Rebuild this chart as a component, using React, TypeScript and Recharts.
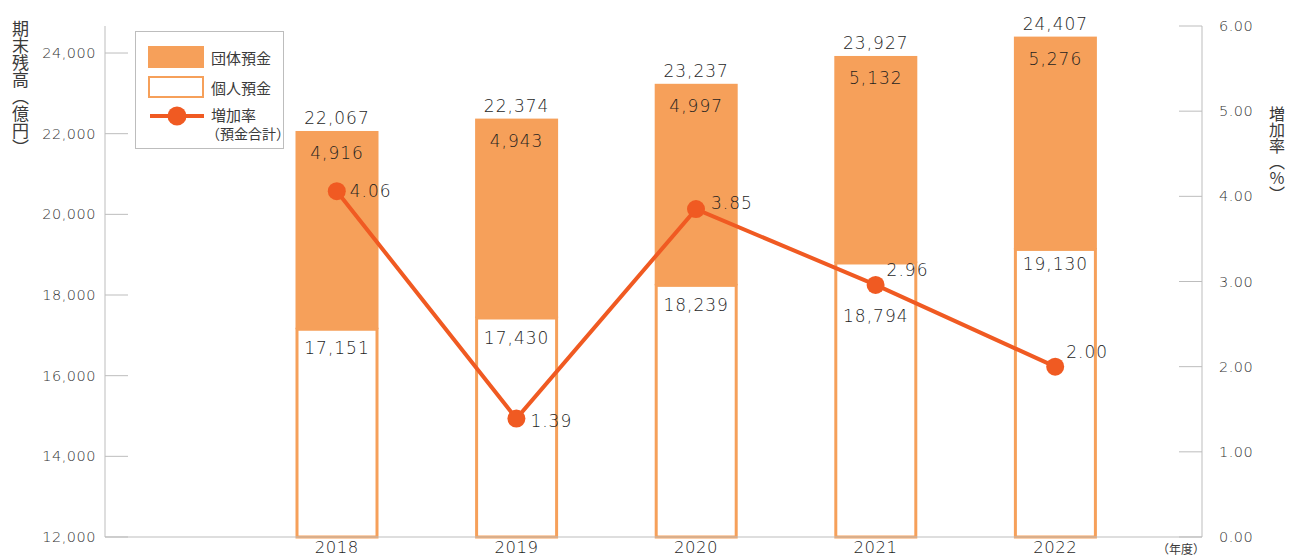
import { Bar, ComposedChart, Line, XAxis, YAxis } from 'recharts';

const years = ['2018', '2019', '2020', '2021', '2022'];
const groupDeposits = [4916, 4943, 4997, 5132, 5276];
const personalDeposits = [17151, 17430, 18239, 18794, 19130];
const totalDeposits = [22067, 22374, 23237, 23927, 24407];
const growthRates = [4.06, 1.39, 3.85, 2.96, 2.0];

const leftTicks = [12000, 14000, 16000, 18000, 20000, 22000, 24000];
const rightTicks = [0, 1, 2, 3, 4, 5, 6];

const BASE = 12000;
const BAR_ORANGE = '#F6A05A';
const LINE_ORANGE = '#F05A22';
const AXIS_GREY = '#BDBDBD';
const TEXT = '#3a3a3a';
const NUM_TEXT = '#1e1e1e';
const NUM_FONT = '"DejaVu Sans", sans-serif';
const NUM_WEIGHT = 200;
const JP_FONT = '"Noto Sans CJK JP", sans-serif';

// label nudges (dy of personal label, rate label dx/dy) per year
const personalLabelDy = [19, 20, 20, 53, 15];
const rateLabelDx = [13, 14, 15, 11, 11];
const rateLabelDy = [0, 2, -6, -15, -15];

const data = years.map((year, i) => ({
  year,
  personal: [BASE, personalDeposits[i]],
  group: [personalDeposits[i], totalDeposits[i]],
  rate: growthRates[i],
}));

const fmt = (n: number) => n.toLocaleString('en-US');

function PersonalShape(props: any) {
  const { x, y, width, height, payload } = props;
  const i = years.indexOf(payload.year);
  return (
    <g>
      <rect x={x} y={y} width={width} height={height} fill="#fff" stroke={BAR_ORANGE} strokeWidth={3} />
      <text
        x={x + width / 2}
        y={y + personalLabelDy[i]}
        textAnchor="middle"
        dominantBaseline="central"
        fontSize={17}
        letterSpacing={1}
        fontFamily={NUM_FONT}
        fontWeight={NUM_WEIGHT}
        fill={NUM_TEXT}
      >
        {fmt(personalDeposits[i])}
      </text>
    </g>
  );
}

function GroupShape(props: any) {
  const { x, y, width, height, payload } = props;
  const i = years.indexOf(payload.year);
  const cx = x + width / 2;
  return (
    <g>
      <rect x={x - 1.5} y={y} width={width + 3} height={height} fill={BAR_ORANGE} />
      <text x={cx} y={y - 13} textAnchor="middle" dominantBaseline="central" fontSize={17} letterSpacing={1} fontFamily={NUM_FONT} fontWeight={NUM_WEIGHT} fill={NUM_TEXT}>
        {fmt(totalDeposits[i])}
      </text>
      <text x={cx} y={y + 22} textAnchor="middle" dominantBaseline="central" fontSize={17} letterSpacing={1} fontFamily={NUM_FONT} fontWeight={NUM_WEIGHT} fill={NUM_TEXT}>
        {fmt(groupDeposits[i])}
      </text>
    </g>
  );
}

function RateDot(props: any) {
  const { cx, cy, index } = props;
  return (
    <g key={`dot-${index}`}>
      <circle cx={cx} cy={cy} r={9} fill={LINE_ORANGE} />
      <text
        x={cx + rateLabelDx[index]}
        y={cy + rateLabelDy[index]}
        dominantBaseline="central"
        fontSize={17}
        letterSpacing={1}
        fontFamily={NUM_FONT}
        fontWeight={NUM_WEIGHT}
        fill={NUM_TEXT}
      >
        {growthRates[index].toFixed(2)}
      </text>
    </g>
  );
}

function LeftTick(props: any) {
  const { x, y, payload } = props;
  return (
    <g>
      <line x1={x} x2={x + 23} y1={y} y2={y} stroke={AXIS_GREY} />
      <text x={x - 9} y={y} textAnchor="end" dominantBaseline="central" fontSize={14.5} letterSpacing={0.5} fontFamily={NUM_FONT} fontWeight={NUM_WEIGHT} fill="#333">
        {fmt(payload.value)}
      </text>
    </g>
  );
}

function RightTick(props: any) {
  const { x, y, payload } = props;
  return (
    <g>
      <line x1={x - 23} x2={x} y1={y} y2={y} stroke={AXIS_GREY} />
      <text x={x + 17} y={y} dominantBaseline="central" fontSize={14.5} letterSpacing={0.5} fontFamily={NUM_FONT} fontWeight={NUM_WEIGHT} fill="#333">
        {Number(payload.value).toFixed(2)}
      </text>
    </g>
  );
}

function YearTick(props: any) {
  const { x, y, payload } = props;
  return (
    <text x={x} y={y + 10} textAnchor="middle" dominantBaseline="central" fontSize={16.5} letterSpacing={0.5} fontFamily={NUM_FONT} fontWeight={NUM_WEIGHT} fill={NUM_TEXT}>
      {payload.value}
    </text>
  );
}

function ChartLegend() {
  const row = { display: 'flex', alignItems: 'center', height: 22 } as const;
  return (
    <div
      style={{
        position: 'absolute',
        left: 135,
        top: 31,
        width: 149,
        height: 118,
        border: `1px solid ${AXIS_GREY}`,
        background: '#fff',
        fontFamily: JP_FONT,
        fontSize: 15,
        color: TEXT,
        boxSizing: 'border-box',
      }}
    >
      <div style={{ ...row, position: 'absolute', left: 12, top: 14 }}>
        <div style={{ width: 56, height: 22, background: BAR_ORANGE }} />
        <span style={{ marginLeft: 7 }}>団体預金</span>
      </div>
      <div style={{ ...row, position: 'absolute', left: 12, top: 44 }}>
        <div style={{ width: 52, height: 18, border: `2px solid ${BAR_ORANGE}`, background: '#fff' }} />
        <span style={{ marginLeft: 7 }}>個人預金</span>
      </div>
      <div style={{ position: 'absolute', left: 14, top: 73 }}>
        <svg width={54} height={22} style={{ position: 'absolute', left: 0, top: 0 }}>
          <line x1={0} x2={54} y1={11} y2={11} stroke={LINE_ORANGE} strokeWidth={4} />
          <circle cx={27} cy={11} r={9.5} fill={LINE_ORANGE} />
        </svg>
        <div style={{ position: 'absolute', left: 61, top: 0, lineHeight: '20px', whiteSpace: 'nowrap' }}>増加率</div>
        <div style={{ position: 'absolute', left: 56, top: 19, lineHeight: '18px', fontSize: 14, whiteSpace: 'nowrap' }}>（預金合計）</div>
      </div>
    </div>
  );
}

export default function App() {
  return (
    <div style={{ position: 'absolute', left: 0, top: 0, width: 1291, height: 558, background: '#fff', overflow: 'hidden' }}>
      <ComposedChart
        width={1291}
        height={558}
        data={data}
        margin={{ top: 26, right: 0, bottom: 0, left: 0 }}
        barSize={80}
        barGap={-80}
      >
        <XAxis
          dataKey="year"
          height={21}
          padding={{ left: 142, right: 57 }}
          tickLine={false}
          tickSize={0}
          tickMargin={0}
          axisLine={{ stroke: AXIS_GREY }}
          tick={<YearTick />}
          interval={0}
        />
        <YAxis
          yAxisId="left"
          orientation="left"
          width={105}
          domain={[BASE, 24670]}
          ticks={leftTicks}
          tickLine={false}
          tickSize={0}
          tickMargin={0}
          axisLine={{ stroke: AXIS_GREY }}
          tick={<LeftTick />}
          interval={0}
        />
        <YAxis
          yAxisId="right"
          orientation="right"
          width={89}
          domain={[0, 6]}
          ticks={rightTicks}
          tickLine={false}
          tickSize={0}
          tickMargin={0}
          axisLine={{ stroke: AXIS_GREY }}
          tick={<RightTick />}
          interval={0}
        />
        <Bar yAxisId="left" dataKey="personal" shape={<PersonalShape />} isAnimationActive={false} />
        <Bar yAxisId="left" dataKey="group" shape={<GroupShape />} isAnimationActive={false} />
        <Line
          yAxisId="right"
          dataKey="rate"
          stroke={LINE_ORANGE}
          strokeWidth={4}
          dot={<RateDot />}
          activeDot={false}
          isAnimationActive={false}
        />
      </ComposedChart>
      <ChartLegend />
      <div
        style={{
          position: 'absolute',
          left: 10,
          top: 20,
          writingMode: 'vertical-rl',
          fontFamily: JP_FONT,
          fontSize: 17,
          color: TEXT,
          lineHeight: '20px',
        }}
      >
        期末残高（億円）
      </div>
      <div
        style={{
          position: 'absolute',
          left: 1267,
          top: 106,
          writingMode: 'vertical-rl',
          fontFamily: JP_FONT,
          fontSize: 16,
          color: TEXT,
          lineHeight: '20px',
        }}
      >
        増加率（％）
      </div>
      <div
        style={{
          position: 'absolute',
          left: 1157,
          top: 540,
          fontFamily: JP_FONT,
          fontSize: 12,
          color: TEXT,
          whiteSpace: 'nowrap',
        }}
      >
        （年度）
      </div>
    </div>
  );
}
